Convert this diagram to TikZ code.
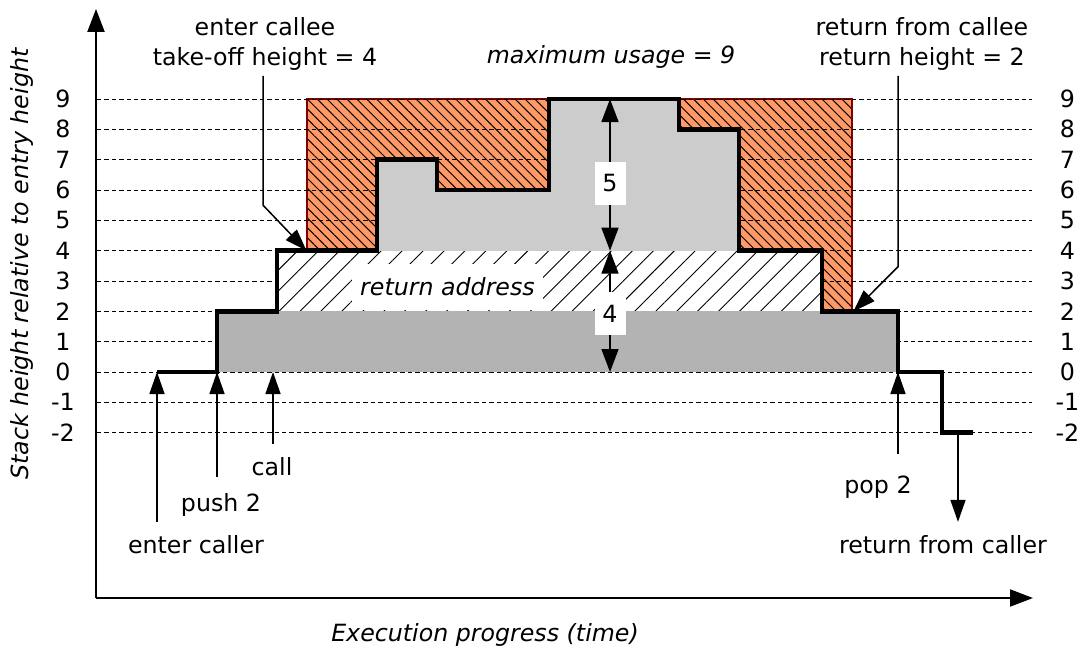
\documentclass[tikz,border=0pt]{standalone}
\usepackage{fontspec}
\setmainfont{DejaVu Sans}
\usetikzlibrary{arrows.meta,patterns.meta}
\definecolor{calleefill}{RGB}{255,153,102}
\definecolor{calleeedge}{RGB}{128,0,0}
\definecolor{calleeframe}{RGB}{204,204,204}
\definecolor{callerframe}{RGB}{179,179,179}
\tikzset{
  txt/.style={font=\fontsize{11.85bp}{15bp}\selectfont, inner sep=0pt},
  gridline/.style={dash pattern=on 2.2bp off 1.5bp, line width=0.5bp},
  profile/.style={line width=2.4bp},
  annot/.style={line width=0.75bp, -{Triangle[length=11bp,width=7.5bp]}},
  axisline/.style={line width=1bp, -{Triangle[length=11.5bp,width=8.5bp]}},
  dimline/.style={line width=0.75bp, {Triangle[length=11.5bp,width=8.5bp]}-{Triangle[length=11.5bp,width=8.5bp]}},
  numbox/.style={txt, fill=white, minimum width=15.5bp, minimum height=21.5bp},
}
\begin{document}
\begin{tikzpicture}[x=0.5bp, y=15.1667bp]
\useasboundingbox (0,-9.264) rectangle (1085,12.264);

% callee's unused reservation (hatched orange)
\def\calleearea{(307,4) -- (307,9) -- (852,9) -- (852,2) -- (822,2) -- (822,4) -- cycle}
\fill[calleefill] \calleearea;
\fill[pattern={Lines[angle=-45,distance=3.5bp,line width=0.5bp]}, pattern color=black] \calleearea;
\draw[calleeedge, line width=1bp] \calleearea;

% height grid with labels on both sides
\foreach \v in {-2,...,9} {
  \draw[gridline] (97,\v) -- (1032,\v);
  \node[txt] (ll\v) at (63,\v) {\v};
  \node[txt] (rl\v) at (1067.5,\v) {\v};
}

% caller's pushed values
\fill[callerframe] (217,0) rectangle (898,2);
% return address
\fill[white] (277,2) rectangle (822,4);
\fill[pattern={Lines[angle=45,distance=7.4bp,line width=0.45bp]}, pattern color=black] (277,2) rectangle (822,4);
\draw[calleeframe, line width=0.5bp] (277,4) -- (822,4);
\draw[callerframe, line width=0.5bp] (277,2) -- (822,2);
\node[txt, fill=white, inner xsep=4bp, minimum height=23bp] (retaddr) at (447.5,2.81) {\itshape return address};

% callee's used stack
\fill[calleeframe] (377,4) -- (377,7) -- (437,7) -- (437,6) -- (549,6) -- (549,9)
  -- (679,9) -- (679,8) -- (739,8) -- (739,4) -- cycle;

% stack height over time
\draw[profile] (157,0) -- (217,0) -- (217,2) -- (277,2) -- (277,4) -- (377,4)
  -- (377,7) -- (437,7) -- (437,6) -- (549,6) -- (549,9) -- (679,9) -- (679,8)
  -- (739,8) -- (739,4) -- (822,4) -- (822,2) -- (898,2) -- (898,0) -- (942,0)
  -- (942,-2) -- (973,-2);

% axes
\coordinate (origin) at (96,-7.45);
\coordinate (ytip) at (96,11.97);
\coordinate (xtip) at (1033,-7.45);
\draw[axisline] (origin) -- (ytip);
\draw[axisline] (origin) -- (xtip);
\node[txt, rotate=90] (ylabel) at (22,3.56) {\itshape Stack height relative to entry height};
\node[txt] (xlabel) at (485,-8.67) {\itshape Execution progress (time)};

% dimensions
\coordinate (d9) at (610,9);
\coordinate (d4) at (610,4);
\coordinate (d0) at (610,0);
\draw[dimline] (d9) -- (d4) node[numbox, pos=0.554] (five) {5};
\draw[dimline] (d4) -- (d0) node[numbox, pos=0.52] (four) {4};
\node[txt] (maxuse) at (611,10.40) {\itshape maximum usage = 9};

% callee entry and return
\node[txt, align=center] (callee) at (265,10.81) {enter callee\\take-off height = 4};
\coordinate (c1) at (263,9.76);
\coordinate (c2) at (263,5.5);
\coordinate (takeoff) at (306.5,4);
\draw[annot] (c1) -- (c2) -- (takeoff);

\node[txt, align=center] (retcallee) at (922,10.81) {return from callee\\return height = 2};
\coordinate (r1) at (898,9.76);
\coordinate (r2) at (898,3.47);
\coordinate (retpt) at (853.5,2);
\draw[annot] (r1) -- (r2) -- (retpt);

% events along the time axis
\node[txt] (entercaller) at (196,-5.70) {enter caller};
\coordinate (ec0) at (157,-4.94);
\coordinate (ec1) at (157,0);
\draw[annot] (ec0) -- (ec1);

\node[txt] (push) at (221,-4.38) {push 2};
\coordinate (pu0) at (217,-3.45);
\coordinate (pu1) at (217,0);
\draw[annot] (pu0) -- (pu1);

\node[txt] (call) at (272,-3.12) {call};
\coordinate (ca0) at (273,-2.37);
\coordinate (ca1) at (273,0);
\draw[annot] (ca0) -- (ca1);

\node[txt] (pop) at (878,-3.78) {pop 2};
\coordinate (po0) at (898,-2.70);
\coordinate (po1) at (898,0);
\draw[annot] (po0) -- (po1);

\node[txt] (retcaller) at (943,-5.70) {return from caller};
\coordinate (rc0) at (958,-2);
\coordinate (rc1) at (958,-4.94);
\draw[annot] (rc0) -- (rc1);
\end{tikzpicture}
\end{document}
